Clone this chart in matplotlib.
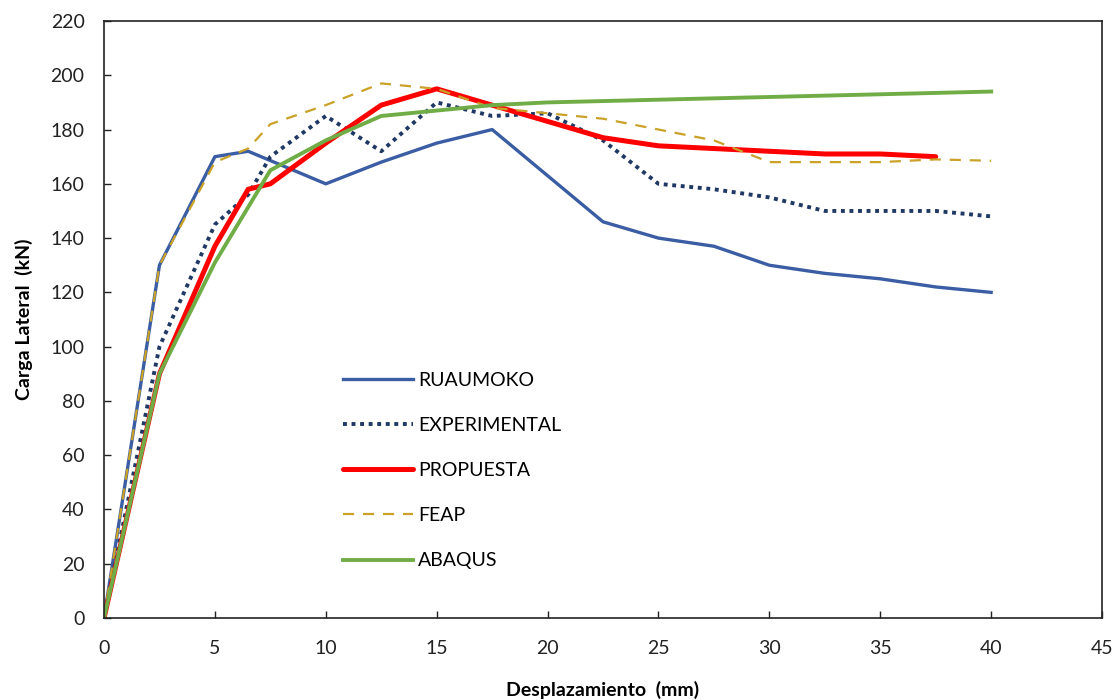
import matplotlib.pyplot as plt

plt.rcParams['font.family'] = ['Lato', 'DejaVu Sans']

# Displacement (mm) and lateral load (kN)
x_ruaumoko = [0, 2.5, 5, 6.5, 10, 12.5, 15, 17.5, 20, 22.5, 25, 27.5, 30, 32.5, 35, 37.5, 40]
y_ruaumoko = [0, 130, 170, 172, 160, 168, 175, 180, 163, 146, 140, 137, 130, 127, 125, 122, 120]

x_exp = [0, 2.5, 5, 6.5, 7.5, 10, 12.5, 15, 17.5, 20, 22.5, 25, 27.5, 30, 32.5, 35, 37.5, 40]
y_exp = [0, 100, 145, 156, 170, 185, 172, 190, 185, 186, 176, 160, 158, 155, 150, 150, 150, 148]

x_prop = [0, 2.5, 5, 6.5, 7.5, 10, 12.5, 15, 17.5, 20, 22.5, 25, 27.5, 30, 32.5, 35, 37.5]
y_prop = [0, 90, 137, 158, 160, 175, 189, 195, 189, 183, 177, 174, 173, 172, 171, 171, 170]

x_feap = [0, 2.5, 5, 6.5, 7.5, 10, 12.5, 15, 17.5, 20, 22.5, 25, 27.5, 30, 32.5, 35, 37.5, 40]
y_feap = [0, 130, 168, 173, 182, 189, 197, 195, 188, 186, 184, 180, 176, 168, 168, 168, 169, 168.5]

x_abaqus = [0, 2.5, 5, 7.5, 10, 12.5, 15, 17.5, 20, 25, 30, 35, 40]
y_abaqus = [0, 90, 131, 165, 176, 185, 187, 189, 190, 191, 192, 193, 194]

fig = plt.figure(figsize=(11.16, 7.0), dpi=100)
ax = fig.add_axes([0.0932, 0.1171, 0.8943, 0.8529])

ax.plot(x_ruaumoko, y_ruaumoko, color='#3A5DA3', lw=2.4, label='RUAUMOKO')
ax.plot(x_exp, y_exp, color='#1F3864', lw=2.8, linestyle=(0, (1, 1.2)), label='EXPERIMENTAL')
ax.plot(x_prop, y_prop, color='#FF0000', lw=3.6, solid_capstyle='round', label='PROPUESTA')
ax.plot(x_feap, y_feap, color='#C9A227', lw=1.6, linestyle=(0, (5, 4)), label='FEAP')
ax.plot(x_abaqus, y_abaqus, color='#70AD47', lw=2.8, label='ABAQUS')

ax.set_xlim(0, 45)
ax.set_ylim(0, 220)
ax.set_xticks(range(0, 46, 5))
ax.set_yticks(range(0, 221, 20))
ax.tick_params(direction='in', length=5, width=1, labelsize=14, colors='#222222')
ax.tick_params(axis='x', pad=16)
ax.tick_params(axis='y', pad=14)
for s in ax.spines.values():
    s.set_linewidth(1.2)
    s.set_color('#222222')

ax.set_xlabel('Desplazamiento  (mm)', fontsize=14, fontweight='bold', labelpad=17)
ax.set_ylabel('Carga Lateral  (kN)', fontsize=14, fontweight='bold', labelpad=13)

ax.legend(loc='upper left', bbox_to_anchor=(0.222, 0.442), frameon=False, fontsize=14,
          handlelength=3.6, labelspacing=1.45, handletextpad=0.25)

fig.savefig('out.png', dpi=100)
